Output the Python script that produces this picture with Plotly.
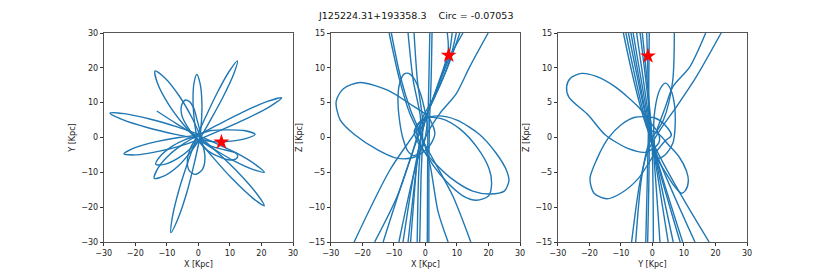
import plotly.graph_objects as go

# ---------------- data ----------------
TITLE = "J125224.31+193358.3\u00a0\u00a0\u00a0\u00a0Circ = -0.07053"

xy_ticks = [-30, -20, -10, 0, 10, 20, 30]
z_ticks = [-15, -10, -5, 0, 5, 10, 15]

star_xy = (7.3, -1.3)
star_xz = (7.4, 11.8)
star_yz = (-1.4, 11.7)

# X-Y projection: petals of the rosette (x, y) in kpc
xy_petal_01 = [(-0.52, 0.29), (2.32, 5.94), (5.86, 12.64), (9.84, 19.09), (12.4, 22.0), (11.24, 18.31), (7.78, 11.56), (3.88, 5.06), (0.52, -0.29)]
xy_petal_02 = [(-0.24, 0.55), (6.24, 3.68), (14.08, 7.28), (22.12, 10.42), (26.4, 11.4), (22.76, 8.96), (14.96, 5.26), (6.96, 2.02), (0.24, -0.55)]
xy_petal_03 = [(-0.14, -0.28), (-7.26, 0.91), (-15.7, 2.73), (-24.01, 5.11), (-28.0, 7.0), (-23.59, 6.87), (-15.1, 5.25), (-6.74, 3.05), (0.14, 0.88)]
xy_petal_04 = [(-0.6, -0.45), (-4.8, 3.8), (-9.3, 9.3), (-12.9, 15.4), (-13.75, 19.1), (-10.6, 17.1), (-5.9, 11.7), (-2.1, 5.8), (0.6, 0.45)]
xy_petal_05 = [(-0.5, 0.0), (-1.23, 4.5), (-1.68, 9.92), (-1.43, 15.36), (-0.5, 18.1), (0.57, 15.42), (1.12, 10.0), (0.97, 4.56), (0.5, 0.0)]
xy_petal_06 = [(-1.0, 0.0), (-3.5, 3.1), (-5.3, 6.5), (-5.4, 9.0), (-4.3, 10.7), (-2.8, 10.3), (-1.5, 8.5), (-0.4, 5.0), (0.6, 1.5), (0.8, -0.2)]
xy_tail = [(-13.2, 7.6), (-7.0, 4.0), (-1.5, 1.0), (0.5, 0.0)]
xy_petal_08 = [(0.3, 1.0), (4.0, 2.0), (9.0, 2.2), (14.5, 2.0), (18.0, 0.9), (15.0, -0.3), (9.5, -1.1), (5.0, -1.2), (0.5, -0.5)]
xy_petal_09 = [(0.5, -0.5), (4.0, -2.5), (8.5, -3.6), (11.5, -4.3), (12.5, -5.3), (11.8, -6.2), (9.5, -6.4), (6.5, -5.5), (3.0, -3.8), (0.0, -1.0)]
xy_petal_10 = [(0.22, 0.45), (5.62, -1.69), (12.02, -4.42), (18.12, -7.78), (20.9, -10.0), (17.42, -9.22), (10.98, -6.58), (4.84, -3.31), (-0.22, -0.45)]
xy_petal_11 = [(0.34, 0.36), (5.91, -4.17), (12.39, -9.83), (18.39, -16.0), (20.9, -19.6), (17.15, -17.32), (10.61, -11.73), (4.55, -5.63), (-0.34, -0.36)]
xy_petal_12 = [(0.48, -0.15), (-1.23, -7.13), (-3.55, -15.41), (-6.54, -23.47), (-8.7, -27.3), (-8.26, -22.93), (-6.03, -14.63), (-3.13, -6.53), (-0.48, 0.15)]
xy_petal_13 = [(-0.5, 0.0), (-2.5, -3.0), (-3.5, -6.5), (-2.9, -9.5), (-1.0, -10.6), (1.2, -9.3), (2.1, -6.0), (1.5, -2.5), (0.5, 0.0)]
xy_petal_14 = [(0.4, -0.5), (-2.5, -4.2), (-6.3, -8.1), (-11.0, -11.1), (-14.0, -11.7), (-12.8, -8.8), (-9.1, -4.9), (-4.5, -1.7), (-0.4, 0.5)]
xy_petal_15 = [(0.3, -0.5), (-2.6, -3.3), (-6.4, -5.9), (-10.8, -7.7), (-13.5, -7.7), (-12.1, -5.4), (-8.5, -2.6), (-4.2, -0.6), (-0.3, 0.5)]
xy_petal_16 = [(0.1, -0.6), (-5.6, -2.4), (-12.7, -4.0), (-19.8, -5.0), (-23.6, -4.7), (-20.3, -3.0), (-13.3, -1.2), (-6.2, 0.0), (-0.1, 0.6)]

# X-Z projection (x, z) in kpc
xz_loop_left = [(3.0, 0.5), (0.85, 3.0), (-4.5, 4.7), (-12.0, 6.8), (-20.8, 7.9), (-26.0, 7.0), (-28.3, 5.2), (-27.0, 2.5), (-22.4, 0.4), (-15.0, -1.8), (-8.7, -3.0), (-3.4, -2.8), (0.8, -1.5), (3.0, 0.5)]
xz_loop_right_outer = [(-3.5, 1.0), (0.0, 2.7), (4.0, 3.1), (10.0, 2.5), (17.0, 0.5), (22.5, -2.3), (25.8, -4.8), (26.5, -6.2), (25.0, -7.7), (20.5, -8.1), (15.0, -7.7), (8.0, -5.8), (2.0, -3.2), (-2.0, -1.0), (-3.5, 1.0)]
xz_loop_right_inner = [(-3.0, 1.5), (0.0, 2.8), (5.0, 2.7), (11.0, 1.2), (16.5, -1.5), (20.2, -4.5), (21.0, -6.6), (20.0, -8.4), (16.2, -9.0), (12.0, -8.4), (6.0, -6.0), (1.0, -3.0), (-2.0, -0.5), (-3.0, 1.5)]
xz_loop_small = [(0.5, 2.0), (-0.5, 4.5), (-1.5, 6.2), (-3.4, 8.3), (-5.3, 9.2), (-6.8, 9.1), (-8.3, 7.5), (-8.7, 5.5), (-8.3, 2.8), (-7.2, 0.0), (-5.5, -2.0), (-3.5, -2.6), (-1.0, -1.5), (0.5, 2.0)]
xz_pass_01 = [(6.95, 15.0), (7.2, 12.3), (3.5, 7.0), (0.0, 2.5), (-2.3, -2.0), (-3.5, -8.0), (-4.7, -15.0)]
xz_pass_02 = [(8.5, 15.0), (7.5, 12.0), (4.0, 7.5), (0.3, 3.0), (-2.0, -1.5), (-3.8, -8.0), (-5.5, -15.0)]
xz_pass_03 = [(9.8, 15.0), (7.7, 11.1), (3.0, 6.0), (-0.7, 3.0), (-4.0, -2.0), (-9.0, -8.5), (-16.1, -15.0)]
xz_pass_04 = [(10.9, 15.0), (6.7, 9.7), (-0.7, 2.5), (-11.3, -4.7), (-22.6, -15.0)]
xz_pass_05 = [(11.9, 15.0), (7.6, 11.4), (2.0, 5.0), (-2.0, 0.5), (-7.0, -6.0), (-13.4, -15.0)]
xz_pass_06 = [(19.9, 15.0), (14.0, 10.1), (9.8, 6.3), (4.5, 3.4), (0.5, 0.5), (-3.0, -4.0), (-8.4, -15.0)]
xz_pass_07 = [(-11.5, 15.0), (-8.2, 8.3), (-5.0, 3.5), (-1.3, 0.0), (3.5, -4.0), (8.8, -8.5), (14.4, -15.0)]
xz_pass_08 = [(-10.8, 15.0), (-7.8, 8.5), (-4.6, 3.8), (-1.0, 0.0), (1.5, -4.0), (4.0, -10.6), (7.2, -15.0)]
xz_pass_09 = [(-5.5, 15.0), (-3.9, 8.3), (-1.6, 3.0), (-1.5, 0.0), (-2.2, -6.0), (-2.6, -15.0)]
xz_pass_10 = [(-3.6, 15.0), (-2.5, 8.0), (-1.0, 3.0), (-0.9, 0.0), (-1.4, -6.0), (-1.8, -15.0)]
xz_pass_11 = [(1.4, 15.0), (1.1, 8.0), (0.8, 2.0), (0.7, -5.0), (0.6, -15.0)]
xz_pass_12 = [(2.1, 15.0), (1.8, 8.0), (1.3, 2.0), (1.1, -5.0), (1.1, -15.0)]
xz_tail = [(-7.1, -15.0), (-4.0, -6.0), (-1.2, 0.5), (-0.5, 2.0)]

# Y-Z projection (y, z) in kpc
yz_loop_left = [(2.0, 0.5), (-1.3, 2.5), (-4.5, 4.4), (-11.9, 7.3), (-18.0, 8.8), (-22.4, 9.2), (-26.0, 8.5), (-27.2, 7.3), (-26.5, 5.8), (-20.3, 3.2), (-15.0, 0.4), (-7.6, -1.6), (-2.0, -2.1), (2.0, -0.8), (2.0, 0.5)]
yz_loop_lower = [(6.0, 0.3), (4.0, 1.8), (0.8, 2.8), (-5.5, 2.9), (-10.0, 1.8), (-14.0, -0.1), (-17.5, -3.0), (-19.8, -5.9), (-18.5, -8.0), (-14.5, -8.8), (-10.0, -8.0), (-4.5, -5.9), (0.5, -2.5), (4.0, -0.5), (6.0, 0.3)]
yz_loop_upper = [(1.5, -3.0), (0.5, 0.0), (0.8, 4.0), (2.5, 7.0), (4.2, 7.8), (5.7, 7.0), (6.9, 5.0), (7.2, 1.5), (6.5, -0.8), (4.0, -2.5), (1.5, -3.0)]
yz_loop_right = [(-1.0, 1.0), (2.0, 0.5), (5.0, -1.0), (8.5, -2.8), (10.8, -4.8), (11.4, -6.2), (10.5, -7.6), (9.2, -8.0), (7.0, -7.0), (4.0, -4.9), (1.0, -2.5), (-1.0, 1.0)]
yz_pass_01 = [(-9.2, 15.0), (-1.0, 0.5), (18.0, -15.0)]
yz_pass_02 = [(-8.4, 15.0), (-0.8, 0.3), (13.5, -15.0)]
yz_pass_03 = [(-7.6, 15.0), (-0.6, 0.2), (9.6, -15.0)]
yz_pass_04 = [(-6.8, 15.0), (-0.5, 0.0), (8.8, -15.0)]
yz_pass_05 = [(-6.1, 15.0), (-0.3, 0.0), (6.6, -15.0)]
yz_pass_06 = [(-5.0, 15.0), (-0.2, -0.2), (5.0, -15.0)]
yz_pass_07 = [(-3.9, 15.0), (0.0, -0.3), (2.4, -15.0)]
yz_pass_08 = [(-3.2, 15.0), (-0.2, 0.0), (0.3, -15.0)]
yz_pass_09 = [(-1.8, 15.0), (-1.0, 0.0), (-1.5, -15.0)]
yz_pass_10 = [(-1.0, 15.0), (-1.3, 0.0), (-2.1, -15.0)]
yz_pass_11 = [(6.95, 15.0), (6.4, 8.0), (3.5, 2.5), (-1.2, -1.0), (-3.5, -6.0), (-5.3, -15.0)]
yz_pass_12 = [(16.9, 15.0), (11.8, 10.1), (6.5, 7.3), (4.2, 4.5), (1.5, 1.2)]
yz_pass_13 = [(21.8, 15.0), (13.9, 8.7), (7.6, 4.4), (2.3, 1.0), (-1.5, -2.0), (-4.0, -6.5), (-6.6, -15.0)]

xy_curves = [xy_petal_01, xy_petal_02, xy_petal_03, xy_petal_04, xy_petal_05, xy_petal_06,
             xy_tail, xy_petal_08, xy_petal_09, xy_petal_10, xy_petal_11, xy_petal_12,
             xy_petal_13, xy_petal_14, xy_petal_15, xy_petal_16]
xz_curves = [xz_loop_left, xz_loop_right_outer, xz_loop_right_inner, xz_loop_small,
             xz_pass_01, xz_pass_02, xz_pass_03, xz_pass_04, xz_pass_05, xz_pass_06,
             xz_pass_07, xz_pass_08, xz_pass_09, xz_pass_10, xz_pass_11, xz_pass_12, xz_tail]
yz_curves = [yz_loop_left, yz_loop_lower, yz_loop_upper, yz_loop_right,
             yz_pass_01, yz_pass_02, yz_pass_03, yz_pass_04, yz_pass_05, yz_pass_06, yz_pass_07,
             yz_pass_08, yz_pass_09, yz_pass_10, yz_pass_11, yz_pass_12, yz_pass_13]

# ---------------- figure ----------------
BLUE = "#1f77b4"
FONT = "DejaVu Sans"
W, H = 830, 277
PAGE_OFFSET = 8  # default body margin of the page holding the figure


def joined(curves):
    xs, ys = [], []
    for c in curves:
        xs += [p[0] for p in c] + [None]
        ys += [p[1] for p in c] + [None]
    return xs, ys


fig = go.Figure()
panels = [(xy_curves, star_xy, "x", "y"), (xz_curves, star_xz, "x2", "y2"), (yz_curves, star_yz, "x3", "y3")]
for curves, star, xa, ya in panels:
    xs, ys = joined(curves)
    fig.add_trace(go.Scatter(x=xs, y=ys, mode="lines", xaxis=xa, yaxis=ya,
                             line=dict(color=BLUE, width=1.4, shape="spline", smoothing=0.8),
                             connectgaps=False, hoverinfo="skip", showlegend=False))
    fig.add_trace(go.Scatter(x=[star[0]], y=[star[1]], mode="markers", xaxis=xa, yaxis=ya,
                             marker=dict(symbol="star", size=12, color="red", line=dict(width=0)),
                             hoverinfo="skip", showlegend=False))


def fx(px):
    return (px - PAGE_OFFSET) / W


def fy(py):
    return 1 - (py - PAGE_OFFSET) / H


ydom = [fy(242), fy(33)]
xdoms = [[fx(103.75), fx(293.0)], [fx(330.8), fx(520.0)], [fx(557.8), fx(747.0)]]

axis_common = dict(showline=True, linecolor="#555555", linewidth=1, mirror=True,
                   ticks="outside", ticklen=3, tickwidth=0.8, tickcolor="#333333",
                   showgrid=False, zeroline=False, automargin=False,
                   tickfont=dict(family=FONT, size=8, color="#222222"),
                   title_font=dict(family=FONT, size=8, color="#222222"), fixedrange=True)

xlabels = ["X [Kpc]", "X [Kpc]", "Y [Kpc]"]
ylabels = ["Y [Kpc]", "Z [Kpc]", "Z [Kpc]"]
yranges = [[-30, 30], [-15, 15], [-15, 15]]
yticks = [xy_ticks, z_ticks, z_ticks]

layout = dict(width=W, height=H, margin=dict(l=0, r=0, t=0, b=0, autoexpand=False),
              paper_bgcolor="white", plot_bgcolor="white",
              annotations=[dict(text=TITLE, xref="paper", yref="paper", x=fx(415), y=1.0,
                                xanchor="center", yanchor="top", showarrow=False,
                                font=dict(family=FONT, size=9.5, color="#111111"))])
for i in range(3):
    sx = "" if i == 0 else str(i + 1)
    layout["xaxis" + sx] = dict(axis_common, domain=xdoms[i], anchor="y" + sx, range=[-30, 30],
                                tickvals=xy_ticks, title=dict(text=xlabels[i], standoff=4))
    layout["yaxis" + sx] = dict(axis_common, domain=ydom, anchor="x" + sx, range=yranges[i],
                                tickvals=yticks[i], title=dict(text=ylabels[i], standoff=4))
fig.update_layout(**layout)

fig.write_html("out.html")
